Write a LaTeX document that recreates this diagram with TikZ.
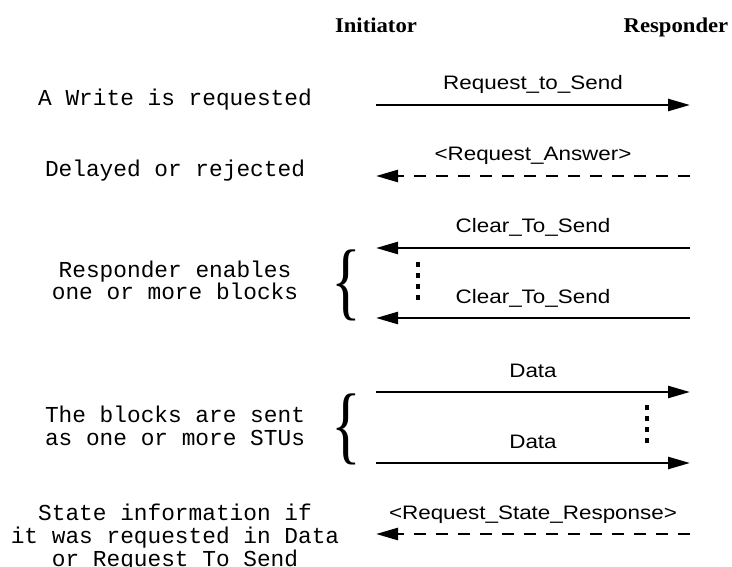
\documentclass[tikz,border=0pt]{standalone}
\usepackage{fontspec}
\setmainfont{Liberation Serif}
\newfontfamily\msgfont[FakeStretch=1.15]{Liberation Sans}
\newfontfamily\notefont{Liberation Mono}
\newfontfamily\headfont[FakeStretch=1.08]{Liberation Serif}
\usetikzlibrary{arrows.meta}

\begin{document}
\begin{tikzpicture}[
x=1pt, y=-1pt,
head/.style={anchor=base, font=\headfont\fontsize{21}{24}\selectfont\bfseries},
note/.style={anchor=base, align=center, inner sep=0pt, font=\notefont\fontsize{22.8}{23}\selectfont},
lbl/.style={anchor=base, inner sep=0pt, yshift=15pt, font=\msgfont\fontsize{19.5}{22}\selectfont},
msg/.style={line width=2.5pt, -{Triangle[length=22pt,width=12pt]}},
reply/.style={msg, dash pattern=on 12pt off 10pt},
vdots/.style={line width=4pt, dash pattern=on 5pt off 6pt},
bracenode/.style={inner sep=0pt, font=\fontsize{86}{86}\selectfont}
]
\useasboundingbox (0,0) rectangle (732,567);

% column heads
\node[head] (ini) at (376,33) {Initiator};
\node[head] (res) at (676,33) {Responder};

% end points of the messages
\coordinate (i1) at (376,105); \coordinate (r1) at (690,105);
\coordinate (i2) at (376,176); \coordinate (r2) at (690,176);
\coordinate (i3) at (376,248); \coordinate (r3) at (690,248);
\coordinate (i4) at (376,318); \coordinate (r4) at (690,318);
\coordinate (i5) at (376,392); \coordinate (r5) at (690,392);
\coordinate (i6) at (376,463); \coordinate (r6) at (690,463);
\coordinate (i7) at (376,534); \coordinate (r7) at (690,534);

% notes on the left (base = last line)
\node[note] (write) at (175,105.7) {A Write is requested};
\node[note] (delay) at (175,177) {Delayed or rejected};
\node[note] (enable) at (175,300) {Responder enables\\one or more blocks};
\node[note] (blocks) at (175,445) {The blocks are sent\\as one or more STUs};
\node[note] (state) at (175,566) {State information if\\it was requested in Data\\or Request To Send};

% braces
\node[bracenode, anchor=base] (brace1) at (346,309) {\scalebox{0.72}[1]{\{}};
\node[bracenode, anchor=base] (brace2) at (346,453) {\scalebox{0.72}[1]{\{}};

% messages
\draw[msg] (i1) -- node[lbl] {Request\_to\_Send} (r1);
\draw[reply] (r2) -- node[lbl] {<Request\_Answer>} (i2);
\draw[msg] (r3) -- node[lbl] {Clear\_To\_Send} (i3);
\draw[msg] (r4) -- node[lbl] {Clear\_To\_Send} (i4);
\draw[msg] (i5) -- node[lbl] {Data} (r5);
\draw[msg] (i6) -- node[lbl] {Data} (r6);
\draw[reply] (r7) -- node[lbl] {<Request\_State\_Response>} (i7);

% more of the same
\coordinate (d1a) at (418,262); \coordinate (d1b) at (418,304);
\coordinate (d2a) at (647,405); \coordinate (d2b) at (647,447);
\draw[vdots] (d1a) -- (d1b);
\draw[vdots] (d2a) -- (d2b);
\end{tikzpicture}
\end{document}
